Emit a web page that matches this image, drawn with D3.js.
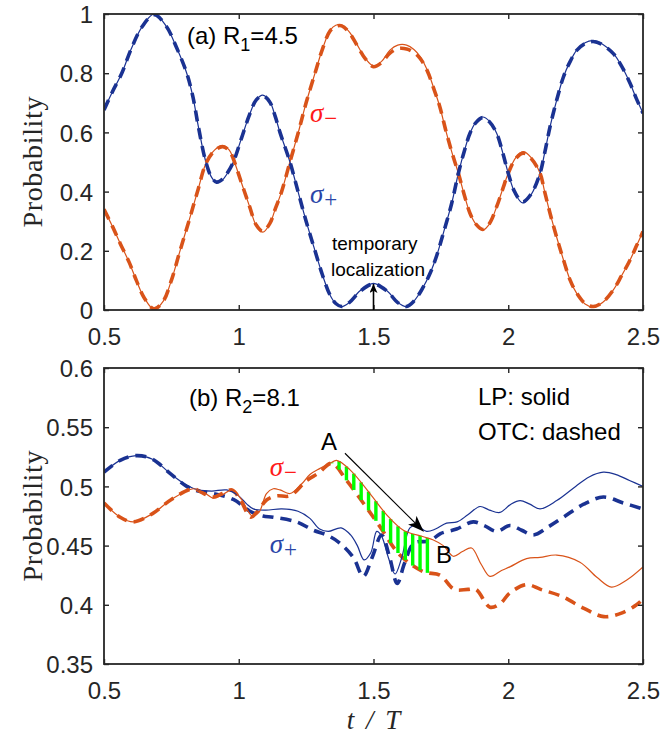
<!DOCTYPE html>
<html>
<head>
<meta charset="utf-8">
<script src="https://cdn.jsdelivr.net/npm/d3@7"></script>
<style>
  body { margin: 0; background: #fff; }
  svg { display: block; }
</style>
</head>
<body>
<svg id="fig" width="661" height="739"></svg>
<script>
// ---- tick values -------------------------------------------------------
const timeTicks = [0.5, 1, 1.5, 2, 2.5];
const probTicksA = [0, 0.2, 0.4, 0.6, 0.8, 1];
const probTicksB = [0.35, 0.4, 0.45, 0.5, 0.55, 0.6];

// ---- panel (a): R1 = 4.5, [t/T, probability] ------------------------------
const aPlusLP = [[0.5,0.676],[0.53,0.735],[0.566,0.80],[0.60,0.88],[0.64,0.955],[0.686,1.0],[0.73,0.96],[0.77,0.885],[0.807,0.80],[0.83,0.72],[0.85,0.62],[0.878,0.50],[0.90,0.447],[0.918,0.43],[0.94,0.44],[0.96,0.465],[0.98,0.50],[1.01,0.58],[1.04,0.66],[1.065,0.71],[1.089,0.726],[1.115,0.705],[1.135,0.655],[1.153,0.60],[1.19,0.50],[1.22,0.40],[1.25,0.30],[1.283,0.20],[1.31,0.12],[1.339,0.05],[1.36,0.022],[1.382,0.011],[1.41,0.025],[1.45,0.065],[1.50,0.09],[1.55,0.065],[1.59,0.025],[1.623,0.011],[1.65,0.03],[1.68,0.07],[1.71,0.124],[1.735,0.185],[1.759,0.259],[1.79,0.36],[1.815,0.462],[1.838,0.54],[1.858,0.597],[1.88,0.635],[1.905,0.652],[1.93,0.638],[1.957,0.597],[1.98,0.53],[2.0,0.462],[2.025,0.395],[2.053,0.362],[2.085,0.39],[2.118,0.462],[2.135,0.53],[2.155,0.619],[2.18,0.71],[2.205,0.788],[2.23,0.84],[2.254,0.878],[2.285,0.903],[2.315,0.91],[2.35,0.898],[2.39,0.867],[2.42,0.825],[2.452,0.766],[2.475,0.715],[2.5,0.665]];
const aPlusOTC = [[0.5,0.676],[0.53,0.735],[0.566,0.80],[0.60,0.88],[0.64,0.955],[0.686,0.998],[0.73,0.96],[0.77,0.885],[0.807,0.80],[0.83,0.72],[0.85,0.62],[0.878,0.50],[0.90,0.447],[0.918,0.432],[0.94,0.442],[0.96,0.466],[0.98,0.50],[1.01,0.58],[1.04,0.66],[1.065,0.71],[1.089,0.724],[1.115,0.703],[1.135,0.655],[1.153,0.60],[1.19,0.50],[1.22,0.40],[1.25,0.30],[1.283,0.20],[1.31,0.12],[1.339,0.05],[1.36,0.022],[1.382,0.012],[1.41,0.025],[1.45,0.063],[1.50,0.088],[1.55,0.064],[1.59,0.025],[1.623,0.012],[1.65,0.03],[1.68,0.07],[1.71,0.124],[1.735,0.185],[1.759,0.259],[1.79,0.36],[1.815,0.462],[1.838,0.54],[1.858,0.597],[1.88,0.633],[1.905,0.65],[1.93,0.636],[1.957,0.597],[1.98,0.53],[2.0,0.462],[2.025,0.397],[2.053,0.365],[2.085,0.392],[2.118,0.462],[2.135,0.53],[2.155,0.619],[2.18,0.71],[2.205,0.788],[2.23,0.84],[2.254,0.877],[2.285,0.9],[2.315,0.907],[2.35,0.896],[2.39,0.866],[2.42,0.825],[2.452,0.766],[2.475,0.715],[2.5,0.665]];
const aMinusLP = [[0.5,0.34],[0.53,0.285],[0.56,0.225],[0.594,0.16],[0.62,0.10],[0.65,0.04],[0.686,0.002],[0.72,0.03],[0.75,0.10],[0.782,0.20],[0.815,0.30],[0.85,0.41],[0.878,0.495],[0.91,0.54],[0.94,0.555],[0.965,0.54],[0.98,0.51],[1.01,0.43],[1.04,0.35],[1.065,0.285],[1.089,0.263],[1.115,0.29],[1.135,0.34],[1.159,0.40],[1.19,0.50],[1.221,0.60],[1.25,0.70],[1.283,0.80],[1.31,0.88],[1.339,0.945],[1.36,0.962],[1.382,0.963],[1.41,0.94],[1.437,0.90],[1.47,0.85],[1.50,0.825],[1.53,0.84],[1.561,0.878],[1.59,0.895],[1.623,0.895],[1.65,0.88],[1.673,0.856],[1.70,0.81],[1.722,0.754],[1.745,0.69],[1.771,0.597],[1.795,0.52],[1.815,0.462],[1.838,0.385],[1.858,0.327],[1.88,0.29],[1.905,0.27],[1.93,0.29],[1.957,0.349],[1.98,0.41],[2.0,0.462],[2.028,0.515],[2.056,0.535],[2.085,0.515],[2.118,0.462],[2.135,0.40],[2.155,0.327],[2.18,0.245],[2.205,0.169],[2.23,0.10],[2.254,0.056],[2.285,0.02],[2.315,0.01],[2.35,0.025],[2.39,0.068],[2.42,0.115],[2.452,0.169],[2.475,0.215],[2.5,0.265]];
const aMinusOTC = [[0.5,0.34],[0.53,0.285],[0.56,0.225],[0.594,0.16],[0.62,0.10],[0.65,0.04],[0.686,0.004],[0.72,0.03],[0.75,0.10],[0.782,0.20],[0.815,0.30],[0.85,0.41],[0.878,0.495],[0.91,0.538],[0.94,0.552],[0.965,0.538],[0.98,0.51],[1.01,0.43],[1.04,0.35],[1.065,0.287],[1.089,0.266],[1.115,0.292],[1.135,0.34],[1.159,0.40],[1.19,0.50],[1.221,0.60],[1.25,0.70],[1.283,0.80],[1.31,0.88],[1.339,0.943],[1.36,0.958],[1.382,0.96],[1.41,0.937],[1.437,0.897],[1.47,0.848],[1.50,0.822],[1.53,0.836],[1.561,0.868],[1.59,0.883],[1.623,0.882],[1.65,0.87],[1.673,0.85],[1.70,0.807],[1.722,0.752],[1.745,0.69],[1.771,0.597],[1.795,0.52],[1.815,0.462],[1.838,0.385],[1.858,0.327],[1.88,0.29],[1.905,0.272],[1.93,0.292],[1.957,0.349],[1.98,0.41],[2.0,0.462],[2.028,0.512],[2.056,0.53],[2.085,0.512],[2.118,0.462],[2.135,0.40],[2.155,0.327],[2.18,0.245],[2.205,0.169],[2.23,0.10],[2.254,0.057],[2.285,0.022],[2.315,0.012],[2.35,0.026],[2.39,0.068],[2.42,0.115],[2.452,0.169],[2.475,0.215],[2.5,0.265]];

// ---- panel (b): R2 = 8.1 ------------------------------------------------
const bPlusLP = [[0.5,0.512],[0.56,0.522],[0.62,0.526],[0.68,0.523],[0.745,0.511],[0.807,0.501],[0.85,0.497],[0.90,0.496],[0.955,0.497],[1.0,0.492],[1.03,0.485],[1.054,0.481],[1.10,0.480],[1.16,0.481],[1.22,0.479],[1.264,0.473],[1.30,0.464],[1.332,0.462],[1.38,0.465],[1.415,0.459],[1.44,0.450],[1.465,0.438],[1.49,0.444],[1.512,0.462],[1.53,0.458],[1.555,0.440],[1.58,0.426],[1.605,0.440],[1.635,0.465],[1.66,0.467],[1.697,0.462],[1.73,0.464],[1.771,0.469],[1.81,0.470],[1.85,0.476],[1.895,0.483],[1.93,0.480],[1.969,0.478],[2.01,0.485],[2.044,0.488],[2.08,0.485],[2.118,0.481],[2.18,0.488],[2.25,0.500],[2.30,0.508],[2.353,0.512],[2.40,0.510],[2.45,0.505],[2.5,0.500]];
const bPlusOTC = [[0.5,0.512],[0.56,0.522],[0.62,0.526],[0.68,0.523],[0.745,0.511],[0.807,0.500],[0.85,0.496],[0.906,0.494],[0.98,0.489],[1.042,0.479],[1.09,0.475],[1.128,0.474],[1.215,0.470],[1.277,0.463],[1.326,0.459],[1.37,0.453],[1.425,0.440],[1.462,0.424],[1.495,0.440],[1.53,0.459],[1.56,0.440],[1.588,0.418],[1.615,0.435],[1.65,0.452],[1.71,0.454],[1.747,0.460],[1.808,0.464],[1.87,0.470],[1.91,0.467],[1.957,0.462],[2.006,0.467],[2.05,0.463],[2.093,0.459],[2.15,0.466],[2.205,0.474],[2.28,0.485],[2.353,0.491],[2.427,0.486],[2.5,0.481]];
const bMinusLP = [[0.5,0.486],[0.56,0.474],[0.609,0.470],[0.68,0.477],[0.75,0.489],[0.831,0.498],[0.87,0.495],[0.906,0.490],[0.94,0.493],[0.975,0.497],[1.01,0.489],[1.05,0.475],[1.075,0.478],[1.103,0.494],[1.128,0.498],[1.153,0.497],[1.19,0.494],[1.233,0.502],[1.264,0.510],[1.30,0.515],[1.339,0.5195],[1.363,0.522],[1.413,0.514],[1.487,0.494],[1.549,0.476],[1.611,0.463],[1.685,0.4575],[1.72,0.455],[1.759,0.450],[1.796,0.441],[1.83,0.445],[1.864,0.448],[1.90,0.434],[1.932,0.424],[1.975,0.429],[2.006,0.432],[2.068,0.439],[2.118,0.440],[2.18,0.442],[2.266,0.436],[2.33,0.423],[2.383,0.415],[2.44,0.421],[2.5,0.432]];
const bMinusOTC = [[0.5,0.486],[0.56,0.474],[0.609,0.470],[0.68,0.477],[0.75,0.489],[0.831,0.498],[0.87,0.494],[0.906,0.491],[0.94,0.494],[0.975,0.497],[1.005,0.489],[1.045,0.474],[1.07,0.479],[1.103,0.4885],[1.14,0.492],[1.19,0.492],[1.252,0.505],[1.295,0.511],[1.345,0.5195],[1.40,0.505],[1.462,0.486],[1.524,0.466],[1.598,0.442],[1.685,0.428],[1.747,0.425],[1.80,0.413],[1.85,0.413],[1.88,0.413],[1.932,0.398],[1.97,0.401],[2.006,0.410],[2.068,0.417],[2.12,0.413],[2.2,0.407],[2.281,0.397],[2.355,0.390],[2.42,0.393],[2.476,0.400],[2.5,0.405]];

// interval of t/T where the LP-OTC gap of sigma- is hatched
const hatchInterval = [1.345, 1.70];
const hatchCount = 14;

// ---- styling ------------------------------------------------------------
const BLUE = "#1a3292";
const ORANGE = "#d95319";
const AXIS = "#262626";
const SANS = "'Liberation Sans', Arial, Helvetica, sans-serif";
const SERIF = "'Liberation Serif', 'Times New Roman', serif";

const svg = d3.select("#fig");
const left = 104, right = 643;
const x = d3.scaleLinear().domain([0.5, 2.5]).range([left, right]);

const defs = svg.append("defs");
function arrowMarker(id, len, wid) {
  defs.append("marker")
    .attr("id", id)
    .attr("markerUnits", "userSpaceOnUse")
    .attr("viewBox", `0 ${-wid / 2} ${len} ${wid}`)
    .attr("refX", len).attr("refY", 0)
    .attr("markerWidth", len).attr("markerHeight", wid)
    .attr("orient", "auto")
    .append("path")
    .attr("d", `M0,${-wid / 2}L${len},0L0,${wid / 2}L${len * 0.25},0Z`)
    .attr("fill", "#000");
}
arrowMarker("headSmall", 9, 8);
arrowMarker("headBig", 16, 12);

function lineGen(y) {
  return d3.line()
    .x(d => x(d[0]))
    .y(d => y(d[1]))
    .curve(d3.curveCatmullRom.alpha(0.5));
}

function drawFrame(g, y, ticks) {
  const [y0, y1] = y.range();
  // tick labels and inward ticks on bottom / left
  const bottom = g.append("g").attr("transform", `translate(0,${y0})`)
    .call(d3.axisBottom(x).tickValues(timeTicks).tickSizeInner(-5).tickSizeOuter(0)
      .tickPadding(18).tickFormat(d => String(d)));
  const leftAx = g.append("g").attr("transform", `translate(${left},0)`)
    .call(d3.axisLeft(y).tickValues(ticks).tickSizeInner(-5).tickSizeOuter(0)
      .tickPadding(11).tickFormat(d => String(d)));
  // mirrored ticks on top / right
  const topAx = g.append("g").attr("transform", `translate(0,${y1})`)
    .call(d3.axisTop(x).tickValues(timeTicks).tickSizeInner(-5).tickSizeOuter(0).tickFormat(""));
  const rightAx = g.append("g").attr("transform", `translate(${right},0)`)
    .call(d3.axisRight(y).tickValues(ticks).tickSizeInner(-5).tickSizeOuter(0).tickFormat(""));
  [bottom, leftAx, topAx, rightAx].forEach(a => {
    a.select(".domain").remove();
    a.selectAll("line").attr("stroke", AXIS).attr("stroke-width", 1.4);
    a.selectAll("text").attr("fill", AXIS).style("font-family", SANS).style("font-size", "24px");
  });
  leftAx.selectAll("text").attr("dy", "0.36em");
  g.append("rect")
    .attr("x", left).attr("y", y1)
    .attr("width", right - left).attr("height", y0 - y1)
    .attr("fill", "none").attr("stroke", AXIS).attr("stroke-width", 1.8);
  g.append("text")
    .attr("transform", `translate(42,${(y0 + y1) / 2}) rotate(-90)`)
    .attr("text-anchor", "middle")
    .style("font-family", SERIF).style("font-size", "28px")
    .attr("fill", AXIS)
    .attr("textLength", 131).attr("lengthAdjust", "spacing")
    .text("Probability");
}

function drawSeries(g, y, data, color, dashed) {
  return g.append("path")
    .datum(data)
    .attr("d", lineGen(y))
    .attr("fill", "none")
    .attr("stroke", color)
    .attr("stroke-width", dashed ? 3.6 : 1.2)
    .attr("stroke-dasharray", dashed ? "11,7" : null)
    .attr("stroke-linejoin", "round");
}

function sigmaLabel(g, px, py, sub, color) {
  const t = g.append("text").attr("x", px).attr("y", py).attr("fill", color);
  t.append("tspan").style("font-family", SERIF).style("font-style", "italic")
    .style("font-size", "27px").text("σ");
  t.append("tspan").attr("dx", 1).attr("dy", 4).style("font-family", SERIF)
    .style("font-size", "23px").text(sub);
}

function panelTitle(g, px, py, head, sub, tail) {
  const t = g.append("text").attr("x", px).attr("y", py)
    .style("font-family", SANS).style("font-size", "24px").attr("fill", "#000");
  t.append("tspan").text(head);
  t.append("tspan").attr("dy", 7).style("font-size", "18px").text(sub);
  t.append("tspan").attr("dy", -7).text(tail);
}

// ---- panel (a) ----------------------------------------------------------
const yA = d3.scaleLinear().domain([0, 1]).range([310, 14]);
const gA = svg.append("g");
const clipA = defs.append("clipPath").attr("id", "clipA");
clipA.append("rect").attr("x", left).attr("y", 14).attr("width", right - left).attr("height", 296);
const plotA = gA.append("g").attr("clip-path", "url(#clipA)");
drawSeries(plotA, yA, aMinusLP, ORANGE, false);
drawSeries(plotA, yA, aPlusLP, BLUE, false);
drawSeries(plotA, yA, aMinusOTC, ORANGE, true);
drawSeries(plotA, yA, aPlusOTC, BLUE, true);
drawFrame(gA, yA, probTicksA);
panelTitle(gA, 187, 44, "(a) R", "1", "=4.5");
sigmaLabel(gA, x(1.264), yA(0.635), "−", "#ff1a1a");
sigmaLabel(gA, x(1.264), yA(0.362), "+", "#2a46a8");

gA.append("text").attr("x", 332).attr("y", 250)
  .style("font-family", SANS).style("font-size", "19px").text("temporary");
gA.append("text").attr("x", 331).attr("y", 276)
  .style("font-family", SANS).style("font-size", "19px").text("localization");
gA.append("line")
  .attr("x1", x(1.5)).attr("y1", yA(0))
  .attr("x2", x(1.5)).attr("y2", yA(0.088))
  .attr("stroke", "#000").attr("stroke-width", 1.6)
  .attr("marker-end", "url(#headSmall)");

// ---- panel (b) ----------------------------------------------------------
const yB = d3.scaleLinear().domain([0.35, 0.6]).range([664, 368]);
const gB = svg.append("g");
const clipB = defs.append("clipPath").attr("id", "clipB");
clipB.append("rect").attr("x", left).attr("y", 368).attr("width", right - left).attr("height", 296);
const plotB = gB.append("g").attr("clip-path", "url(#clipB)");
drawSeries(plotB, yB, bPlusOTC, BLUE, true);
const pMinusOTC = drawSeries(plotB, yB, bMinusOTC, ORANGE, true);
drawSeries(plotB, yB, bPlusLP, BLUE, false);
const pMinusLP = drawSeries(plotB, yB, bMinusLP, ORANGE, false);

// y of a drawn curve at a given pixel x (curves are single-valued in t)
function yOnPath(node, px) {
  let lo = 0, hi = node.getTotalLength();
  for (let i = 0; i < 40; i++) {
    const mid = (lo + hi) / 2;
    if (node.getPointAtLength(mid).x < px) lo = mid; else hi = mid;
  }
  return node.getPointAtLength((lo + hi) / 2).y;
}

// green hatching between LP and OTC sigma- curves
const hatchT = d3.range(hatchCount).map(i =>
  hatchInterval[0] + (hatchInterval[1] - hatchInterval[0]) * i / (hatchCount - 1));
plotB.append("g").selectAll("rect")
  .data(hatchT)
  .join("rect")
  .each(function (t) {
    const px = x(t);
    const yTop = yOnPath(pMinusLP.node(), px);
    const yBot = yOnPath(pMinusOTC.node(), px);
    d3.select(this)
      .attr("x", px - 1.7).attr("width", 3.4)
      .attr("y", Math.min(yTop, yBot))
      .attr("height", Math.abs(yBot - yTop));
  })
  .attr("fill", "#00ff00");
// keep the LP sigma- line visible above the hatching
pMinusLP.raise();

drawFrame(gB, yB, probTicksB);
panelTitle(gB, 189, 406, "(b) R", "2", "=8.1");
gB.append("text").attr("x", 478).attr("y", 405)
  .style("font-family", SANS).style("font-size", "24px").text("LP: solid");
gB.append("text").attr("x", 478).attr("y", 440)
  .style("font-family", SANS).style("font-size", "24px").text("OTC: dashed");
sigmaLabel(gB, x(1.115), yB(0.5085), "−", "#ff1a1a");
sigmaLabel(gB, x(1.115), yB(0.444), "+", "#2a46a8");

gB.append("text").attr("x", 321).attr("y", 450)
  .style("font-family", SANS).style("font-size", "24px").text("A");
gB.append("text").attr("x", 436).attr("y", 563)
  .style("font-family", SANS).style("font-size", "24px").text("B");
gB.append("line")
  .attr("x1", x(1.394)).attr("y1", yB(0.528))
  .attr("x2", x(1.686)).attr("y2", yB(0.462))
  .attr("stroke", "#000").attr("stroke-width", 1.1)
  .attr("marker-end", "url(#headBig)");

// x-axis label
svg.append("text")
  .attr("x", x(1.5)).attr("y", 729)
  .attr("text-anchor", "middle")
  .style("font-family", SERIF).style("font-style", "italic").style("font-size", "27px")
  .style("word-spacing", "5px")
  .attr("fill", AXIS)
  .text("t / T");
</script>
</body>
</html>
